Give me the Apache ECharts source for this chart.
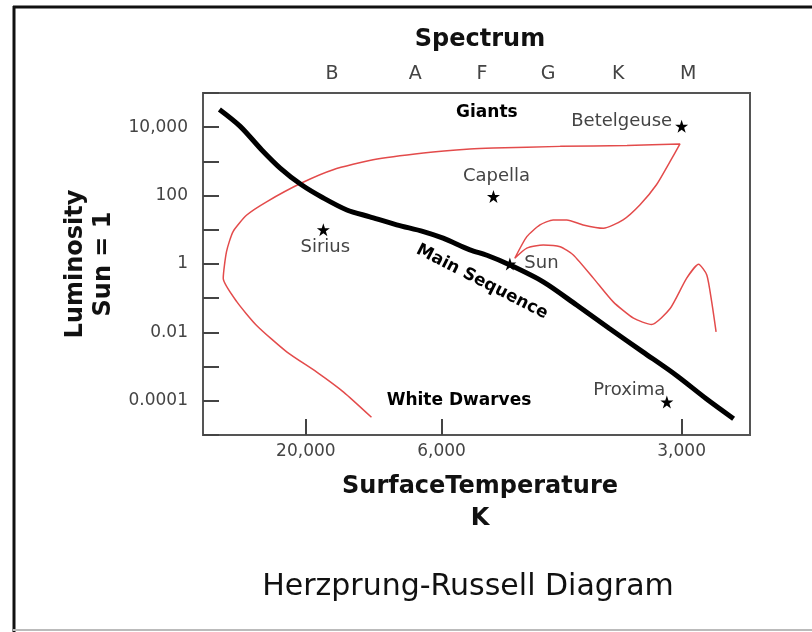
<!DOCTYPE html>
<html>
<head>
<meta charset="utf-8">
<title>Herzprung-Russell Diagram</title>
<script src="https://cdn.jsdelivr.net/npm/echarts@6/dist/echarts.min.js"></script>
<style>
  html, body { margin: 0; padding: 0; background: #fff; }
  .com-chart { width: 812px; height: 632px; }
</style>
</head>
<body>
<div class="com-chart" id="hrChart"></div>
<script>
// x = position along the spectrum (0 hot side .. 100 cool side), y = luminosity (Sun = 1)

// main sequence (thick black line)
const msX = [3.0, 6.8, 10.7, 14.1, 18.0, 22.0, 26.3, 30.5, 35.4, 40.3, 43.9, 48.8, 51.9, 56.1, 62.2, 68.3, 74.3, 80.4, 86.5, 92.0, 97.0]
const msL = [3.3e4, 1.06e4, 2200, 640, 207, 85, 38, 24, 14, 8.9, 5.7, 2.6, 1.8, 0.94, 0.30, 0.063, 0.013, 0.0027, 5.6e-4, 1.15e-4, 3e-5]

// red track
const trackX = [30.8, 25.7, 20.8, 15.3, 9.8, 6.2, 3.7, 4.3, 5.5, 8.0, 11.7, 18.0, 23.8, 31.1, 40.3, 48.8, 53.1, 65.3, 77.5, 87.2,
  85.4, 82.9, 79.9, 76.8, 73.2, 69.5, 66.5, 64.0, 61.6, 59.2, 57.0, 59.2, 62.2, 65.3, 67.7, 71.4, 75.0, 78.7, 82.0, 85.4,
  88.4, 90.6, 92.1, 93.0, 93.8]
const trackL = [3.3e-5, 1.8e-4, 6.9e-4, 2.7e-3, 0.016, 0.078, 0.38, 2.3, 8.9, 27, 67, 233, 571, 1120, 1760, 2310, 2470, 2750, 2940, 3240,
  1000, 207, 54, 19.5, 11.1, 13.9, 19.5, 19.5, 13.9, 6.3, 1.47, 2.9, 3.6, 3.2, 1.84, 0.38, 0.078, 0.026, 0.017, 0.050,
  0.38, 0.98, 0.48, 0.078, 0.0104]

// named stars
const starNames = ['Betelgeuse', 'Capella', 'Sirius', 'Sun', 'Proxima']
const starX = [87.5, 53.1, 22.0, 56.1, 84.8]
const starL = [1.06e4, 94, 10, 1, 9.2e-5]

// region captions
const regionNames = ['Giants', 'White Dwarves', 'Main Sequence']
const regionX = [51.9, 46.8, 51.0]
const regionL = [2.7e4, 1.0e-4, 0.30]

// axis ticks
const tempPos = [18.8, 43.6, 87.5]
const tempLabels = ['20,000', '6,000', '3,000']
const classPos = [23.6, 38.8, 51.0, 63.1, 75.9, 88.7]
const classLabels = ['B', 'A', 'F', 'G', 'K', 'M']
const lumExp = [4, 2, 0, -2, -4]
const lumLabels = ['10,000', '100', '1', '0.01', '0.0001']

const FONT = 'DejaVu Sans'
const STAR = 'path://M12,0 L14.8,8.4 L23.4,8.4 L16.4,13.6 L19.1,22 L12,16.8 L4.9,22 L7.6,13.6 L0.6,8.4 L9.2,8.4 Z'

// label placement for each star
const starLabel = {
  Betelgeuse: { position: 'left', distance: 3, offset: [0, -5] },
  Capella: { position: 'top', distance: 5, offset: [3, 0] },
  Sirius: { position: 'bottom', distance: 2, offset: [2, 0] },
  Sun: { position: 'right', distance: 8, offset: [0, -1] },
  Proxima: { position: 'left', distance: 3, offset: [8, -12] }
}

function zip(xs, ys) {
  return xs.map((x, i) => [x, ys[i]])
}

function initChart() {
  const chartInstance = echarts.init(document.getElementById('hrChart'))
  const option = {
    backgroundColor: '#fff',
    animation: false,
    title: {
      text: 'Herzprung-Russell Diagram',
      left: 463,
      top: 567,
      textAlign: 'center',
      textStyle: { fontFamily: FONT, fontSize: 30, fontWeight: 'normal', color: '#111' }
    },
    grid: {
      left: 203, top: 93, width: 547, height: 342,
      show: true, borderColor: '#555', borderWidth: 2, backgroundColor: '#fff'
    },
    xAxis: [{
      type: 'value', position: 'bottom', min: 0, max: 100,
      name: 'SurfaceTemperature\nK', nameLocation: 'middle', nameGap: 36,
      nameTextStyle: { fontFamily: FONT, fontSize: 24, fontWeight: 'bold', color: '#111', lineHeight: 32, padding: [0, 0, 0, 7] },
      axisLine: { show: false },
      splitLine: { show: false },
      axisTick: { inside: true, length: 16, customValues: tempPos, lineStyle: { color: '#444', width: 2 } },
      axisLabel: {
        customValues: tempPos, margin: 8,
        fontFamily: FONT, fontSize: 17, color: '#444',
        formatter: v => tempLabels[tempPos.indexOf(v)] || ''
      }
    }, {
      type: 'value', position: 'top', min: 0, max: 100,
      name: 'Spectrum', nameLocation: 'middle', nameGap: 40,
      nameTextStyle: { fontFamily: FONT, fontSize: 24, fontWeight: 'bold', color: '#111', lineHeight: 26, padding: [0, 0, 0, 7] },
      axisLine: { show: false },
      splitLine: { show: false },
      axisTick: { show: false },
      axisLabel: {
        customValues: classPos, margin: 9,
        fontFamily: FONT, fontSize: 19, color: '#444',
        formatter: v => classLabels[classPos.indexOf(v)] || ''
      }
    }],
    yAxis: {
      type: 'log', logBase: 10, min: 1e-5, max: 1e5, interval: 1,
      name: 'Luminosity\nSun = 1', nameLocation: 'middle', nameGap: 79,
      nameTextStyle: { fontFamily: FONT, fontSize: 24, fontWeight: 'bold', color: '#111', lineHeight: 28 },
      axisLine: { show: false },
      splitLine: { show: false },
      axisTick: { inside: true, length: 16, lineStyle: { color: '#444', width: 2 } },
      axisLabel: {
        margin: 15, fontFamily: FONT, fontSize: 17, color: '#444',
        formatter: function (v) {
          const i = lumExp.indexOf(Math.round(Math.log10(v)))
          return i < 0 ? '' : lumLabels[i]
        }
      }
    },
    series: [{
      // red track
      type: 'line',
      data: zip(trackX, trackL),
      showSymbol: false,
      smooth: 0.2,
      lineStyle: { color: '#e34b4b', width: 1.5 },
      z: 2
    }, {
      // main sequence
      type: 'line',
      data: zip(msX, msL),
      showSymbol: false,
      smooth: 0.3,
      lineStyle: { color: '#000', width: 5 },
      z: 3
    }, {
      type: 'scatter',
      symbol: STAR,
      symbolSize: 13,
      itemStyle: { color: '#000', opacity: 1 },
      data: starNames.map((n, i) => ({
        name: n,
        value: [starX[i], starL[i]],
        label: Object.assign({ show: true, formatter: '{b}', fontFamily: FONT, fontSize: 18, color: '#444' }, starLabel[n])
      })),
      z: 5
    }, {
      // region captions
      type: 'scatter',
      symbol: 'circle',
      symbolSize: 1,
      itemStyle: { color: 'transparent', opacity: 1 },
      silent: true,
      data: regionNames.map((n, i) => ({
        name: n,
        value: [regionX[i], regionL[i]],
        label: {
          show: true, position: 'inside', formatter: '{b}',
          fontFamily: FONT, fontSize: 17, fontWeight: 'bold', color: '#000',
          rotate: n === 'Main Sequence' ? -27 : 0
        }
      })),
      z: 4
    }],
    graphic: [
      { type: 'line', shape: { x1: 14, y1: 6, x2: 14, y2: 632 }, style: { stroke: '#111', lineWidth: 3 } },
      { type: 'line', shape: { x1: 13, y1: 7, x2: 812, y2: 7 }, style: { stroke: '#111', lineWidth: 3 } },
      { type: 'line', shape: { x1: 13, y1: 630, x2: 812, y2: 630 }, style: { stroke: '#bbb', lineWidth: 2 } }
    ]
  }
  chartInstance.setOption(option)
}

initChart()
</script>
</body>
</html>
